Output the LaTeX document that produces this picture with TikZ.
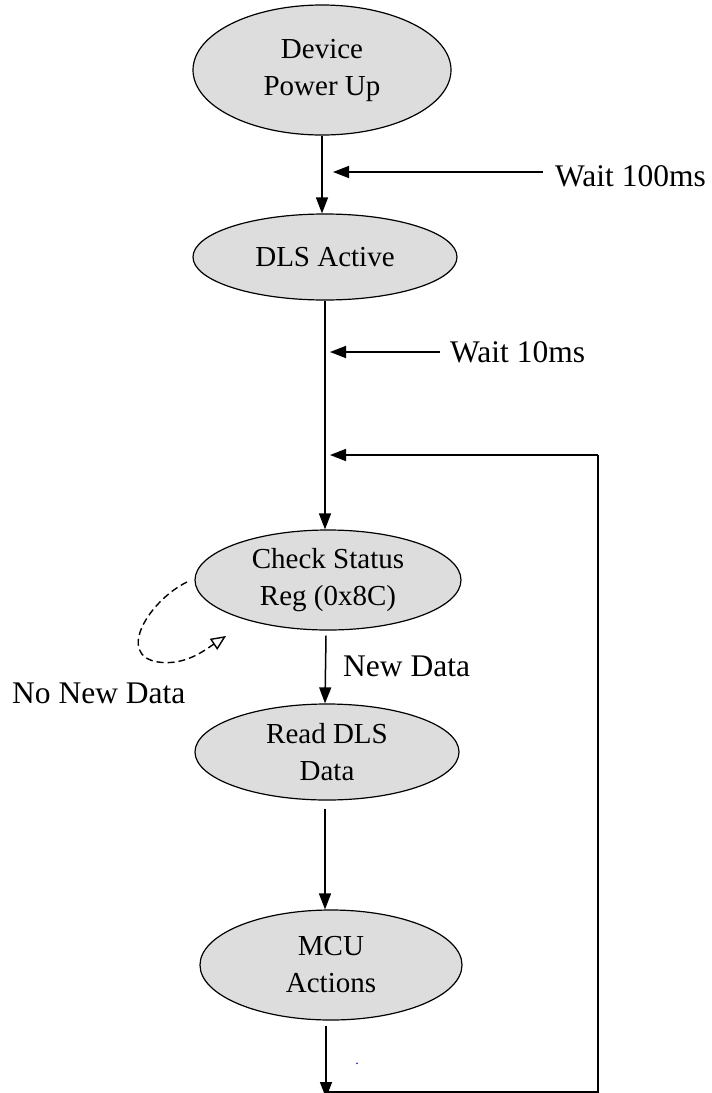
\documentclass[tikz,border=0pt]{standalone}
\usepackage{fontspec}
\setmainfont{Liberation Serif}
\usetikzlibrary{shapes.geometric,arrows.meta}
\definecolor{stategray}{HTML}{DDDDDD}
\tikzset{
  state/.style={ellipse, draw=black, line width=1.2pt, fill=stategray, inner sep=0pt, align=center,
    font=\fontsize{29}{37}\selectfont},
  lbl/.style={font=\fontsize{31.5}{37}\selectfont, inner sep=0pt},
  arr/.style={line width=1.5pt, -{Triangle[length=16pt,width=12pt]}},
  plain/.style={line width=1.5pt},
  dasharr/.style={line width=1.4pt, dash pattern=on 7pt off 4pt, -{Triangle[open,length=15pt,width=13pt]}}
}
\begin{document}
\begin{tikzpicture}[x=1pt,y=-1pt]
\useasboundingbox (0,0) rectangle (712,1093);
\node[state, minimum width=258pt, minimum height=130pt] (pwr) at (322,70) {Device\\Power Up};
\node[state, minimum width=264pt, minimum height=86pt] (dls) at (325,257) {DLS Active};
\node[state, minimum width=266pt, minimum height=100pt] (chk) at (328,580) {Check Status\\Reg (0x8C)};
\node[state, minimum width=264pt, minimum height=96pt] (rd) at (327,752) {Read DLS\\Data};
\node[state, minimum width=262pt, minimum height=110pt] (mcu) at (331,965) {MCU\\Actions};

\node[lbl, anchor=west] (w100) at (555,176) {Wait 100ms};
\node[lbl, anchor=west] (w10) at (450,352) {Wait 10ms};
\node[lbl, anchor=west] (nd) at (343,666) {New Data};
\node[lbl, anchor=west] (nnd) at (12,693) {No New Data};
\node[font=\fontsize{14}{14}\selectfont, text=blue!60!black, inner sep=0pt] (dot) at (357,1064) {.};

\coordinate (w100t) at (333,172);
\coordinate (w10t) at (330,352);
\coordinate (loopin) at (330,455);
\coordinate (bot) at (326,1092);
\coordinate (brc) at (598,1092);
\coordinate (trc) at (598,455);
\coordinate (ls) at (187,582);
\coordinate (le) at (226,636);

\draw[arr] (pwr.south) -- (pwr.south |- dls.north);
\draw[arr] (w100.west) ++(-12,-4) -- (w100t);
\draw[arr] (w10.west) ++(-10,0) -- (w10t);
\draw[arr] (dls.south) -- (dls.south |- chk.north);
\draw[arr] (chk.south) ++(-2,5) -- ([xshift=-2pt]rd.north);
\draw[arr] (rd.south) ++(-2,8) -- ([xshift=-6pt]mcu.north);
\draw[arr] (mcu.south) ++(-5,5) -- ([yshift=-6pt]bot);
\draw[plain] (bot) -- (brc) -- (trc);
\draw[arr] (trc) -- (loopin);
\draw[dasharr] (ls) .. controls (150,600) and (115,655) .. (158,662) .. controls (185,666) and (205,650) .. (le);
\end{tikzpicture}
\end{document}
